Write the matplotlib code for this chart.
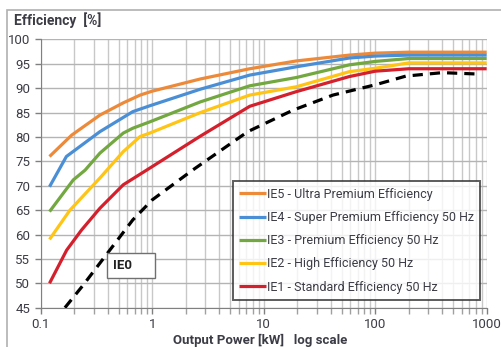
import numpy as np
import matplotlib.pyplot as plt
from matplotlib.patches import Rectangle

# Output power [kW] and efficiency [%]
ie5_x = [0.12, 0.19, 0.34, 0.55, 0.78, 1.0, 2.7, 7.5, 19.6, 58.7, 100, 200, 1000]
ie5_y = [76.0, 80.4, 84.5, 87.0, 88.6, 89.4, 91.9, 94.0, 95.6, 96.8, 97.2, 97.4, 97.4]

ie4_x = [0.12, 0.17, 0.34, 0.67, 0.95, 2.7, 7.5, 19.6, 58.7, 100, 200, 1000]
ie4_y = [69.8, 76.0, 81.1, 85.2, 86.4, 89.8, 92.7, 94.4, 96.2, 96.6, 96.8, 96.8]

ie3_x = [0.12, 0.196, 0.25, 0.34, 0.55, 0.67, 0.95, 2.7, 7.5, 19.6, 58.7, 100, 200, 1000]
ie3_y = [64.7, 71.2, 73.2, 76.7, 80.8, 81.8, 83.1, 87.2, 90.5, 92.2, 94.8, 95.5, 96.1, 96.1]

ie2_x = [0.12, 0.183, 0.34, 0.55, 0.78, 0.95, 2.7, 7.5, 19.6, 58.7, 100, 200, 1000]
ie2_y = [59.0, 65.0, 71.6, 77.0, 80.1, 80.8, 85.0, 88.6, 90.3, 93.4, 94.1, 95.2, 95.2]

ie1_x = [0.12, 0.171, 0.232, 0.34, 0.55, 0.89, 2.67, 7.5, 19.6, 58.7, 100, 200, 1000]
ie1_y = [50.0, 56.8, 60.9, 65.4, 70.2, 73.2, 80.1, 86.3, 89.3, 92.4, 93.5, 94.0, 94.0]

ie0_x = [0.165, 0.24, 0.67, 1.0, 2.3, 7.2, 18.3, 41.8, 100, 189, 400, 870]
ie0_y = [45.0, 49.6, 63.0, 67.1, 73.2, 81.1, 85.5, 88.6, 90.7, 92.5, 93.2, 92.9]

series = [
    (ie5_x, ie5_y, '#ED8A3A', 'IE5 - Ultra Premium Efficiency'),
    (ie4_x, ie4_y, '#4A8FD6', 'IE4 - Super Premium Efficiency 50 Hz'),
    (ie3_x, ie3_y, '#72A83F', 'IE3 - Premium Efficiency 50 Hz'),
    (ie2_x, ie2_y, '#FFC414', 'IE2 - High Efficiency 50 Hz'),
    (ie1_x, ie1_y, '#D4202C', 'IE1 - Standard Efficiency 50 Hz'),
]

y_ticks = list(range(45, 101, 5))
x_ticks = [0.1, 1, 10, 100, 1000]
x_ticklabels = ['0.1', '1', '10', '100', '1000']

plt.rcParams['font.family'] = ['Roboto', 'DejaVu Sans']
txt = '#3c3c46'

fig = plt.figure(figsize=(5.01, 3.47), dpi=100)
ax = fig.add_axes([0.0812, 0.1133, 0.8902, 0.7729])

for xs, ys, c, lab in series:
    ax.plot(xs, ys, color=c, lw=2.3, label=lab, solid_capstyle='butt', zorder=3)
ax.plot(ie0_x, ie0_y, color='black', lw=2.3, ls=(0, (3.2, 2.2)), zorder=3)

ax.set_xscale('log')
ax.set_xlim(0.1, 1000)
ax.set_ylim(45, 100)
ax.set_yticks(y_ticks)
ax.set_xticks(x_ticks)
ax.set_xticklabels(x_ticklabels)
ax.grid(True, which='both', axis='x', color='#c8c8c8', lw=1.0)
ax.grid(True, which='major', axis='y', color='#b4b4b4', lw=1.0)
ax.tick_params(axis='both', which='major', labelsize=9.5, colors='#808080',
               labelcolor=txt, length=4, width=1)
ax.tick_params(axis='x', which='minor', colors='#a0a0a0', length=4, width=1)
ax.tick_params(axis='x', which='minor', labelbottom=False)
for s in ['top', 'right']:
    ax.spines[s].set_visible(False)
ax.spines['left'].set_color('#808080')
ax.spines['bottom'].set_color('#808080')

leg = ax.legend(loc='lower right', bbox_to_anchor=(0.9852, 0.029), fontsize=9.0,
                frameon=True, fancybox=False, handlelength=2.1, handletextpad=0.1,
                borderpad=0.5, labelspacing=0.82, borderaxespad=0)
leg.get_frame().set_edgecolor('#333333')
leg.get_frame().set_linewidth(1.4)
for t in leg.get_texts():
    t.set_color(txt)
leg.set_zorder(5)

# IE0 label box
ax.add_patch(Rectangle((0.39, 51.0), 1.06 - 0.39, 56.3 - 51.0, fc='white',
                       ec='#707070', lw=1.0, zorder=6))
ax.text(0.444, 53.65, 'IE0', fontsize=9.5, fontweight='bold', color='#222222',
        va='center', ha='left', zorder=7)

fig.text(0.027, 0.942, 'Efficiency  [%]', fontsize=10, fontweight='bold',
         color=txt, ha='left', va='center')
fig.text(0.345, 0.02, 'Output Power [kW]   log scale', fontsize=9.5,
         fontweight='bold', color=txt, ha='left', va='center')

fig.patches.append(Rectangle((0.014, -0.1), 1.1, 1.071, transform=fig.transFigure,
                             fill=False, ec='#b0b0b0', lw=1.2))

fig.savefig('out.png', dpi=100)
